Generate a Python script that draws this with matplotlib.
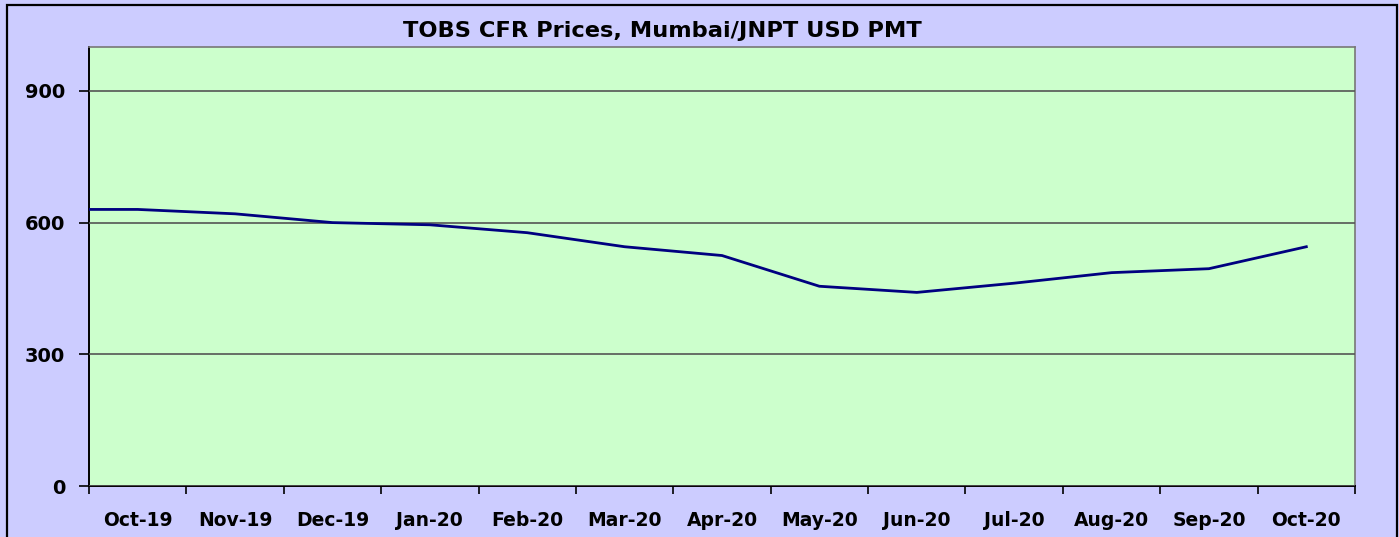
#!/usr/bin/env python3
"""
Line chart of TOBS CFR prices (Mumbai/JNPT, USD PMT), Oct-19 to Oct-20.
Excel-style: lavender frame, light green plot area, navy line.
"""
import numpy as np
import matplotlib
matplotlib.use("Agg")
import matplotlib.pyplot as plt
from matplotlib.patches import Rectangle

# month labels shown on the axis
MONTHS = ["Oct-19", "Nov-19", "Dec-19", "Jan-20", "Feb-20", "Mar-20", "Apr-20",
          "May-20", "Jun-20", "Jul-20", "Aug-20", "Sep-20", "Oct-20"]
# monthly prices; the chart also carries a Sep-19 point that is clipped at the left edge
PREV_PRICE = 630
PRICES = [630, 620, 600, 595, 577, 545, 525, 455, 441, 462, 486, 495, 545]
Y_TICKS = [0, 300, 600, 900]

BG = "#CCCCFF"
PLOT_BG = "#CCFFCC"
LINE = "#000080"

plt.rcParams["font.family"] = ["DejaVu Sans"]


def main():
    fig = plt.figure(figsize=(13.99, 5.37), dpi=100, facecolor=BG)
    # outer chart border
    fig.patches.append(Rectangle((7 / 1399, -0.01), 1389.5 / 1399, (537 - 5) / 537 + 0.01,
                                 transform=fig.transFigure, fill=False,
                                 edgecolor="black", linewidth=1.6))

    ax = fig.add_axes([89 / 1399, (537 - 486) / 537, (1355 - 89) / 1399, (486 - 47) / 537])
    ax.set_facecolor(PLOT_BG)

    n = len(MONTHS)
    x = np.arange(-1, n)
    y = [PREV_PRICE] + PRICES
    ax.plot(x, y, color=LINE, linewidth=2.0, zorder=3)

    ax.set_xlim(-0.5, n - 0.5)
    ax.set_ylim(0, 1000)

    ax.set_yticks(Y_TICKS)
    ax.set_yticklabels([str(v) for v in Y_TICKS], fontsize=14, fontweight="bold")
    ax.yaxis.grid(True, color="#555555", linewidth=1.2)
    ax.set_axisbelow(False)

    # ticks between months, labels centred in each month
    ax.set_xticks(np.arange(-0.5, n, 1.0))
    ax.set_xticklabels([])
    ax.set_xticks(np.arange(n), minor=True)
    ax.set_xticklabels(MONTHS, minor=True, fontsize=13.5, fontweight="bold")
    ax.tick_params(axis="x", which="major", length=6, width=1.2, color="black", direction="out")
    ax.tick_params(axis="x", which="minor", length=0, pad=18)
    ax.tick_params(axis="y", length=7, width=1.2, color="black", pad=10)

    for side in ("left", "bottom"):
        ax.spines[side].set_color("black")
        ax.spines[side].set_linewidth(1.4)
    for side in ("top", "right"):
        ax.spines[side].set_color("#777777")
        ax.spines[side].set_linewidth(1.2)

    fig.text(662 / 1399, 1 - 31 / 537, "TOBS CFR Prices, Mumbai/JNPT USD PMT",
             ha="center", va="center", fontsize=16.2, fontweight="bold")

    fig.savefig("out.png", dpi=100, facecolor=BG)
    plt.close(fig)


if __name__ == "__main__":
    main()
